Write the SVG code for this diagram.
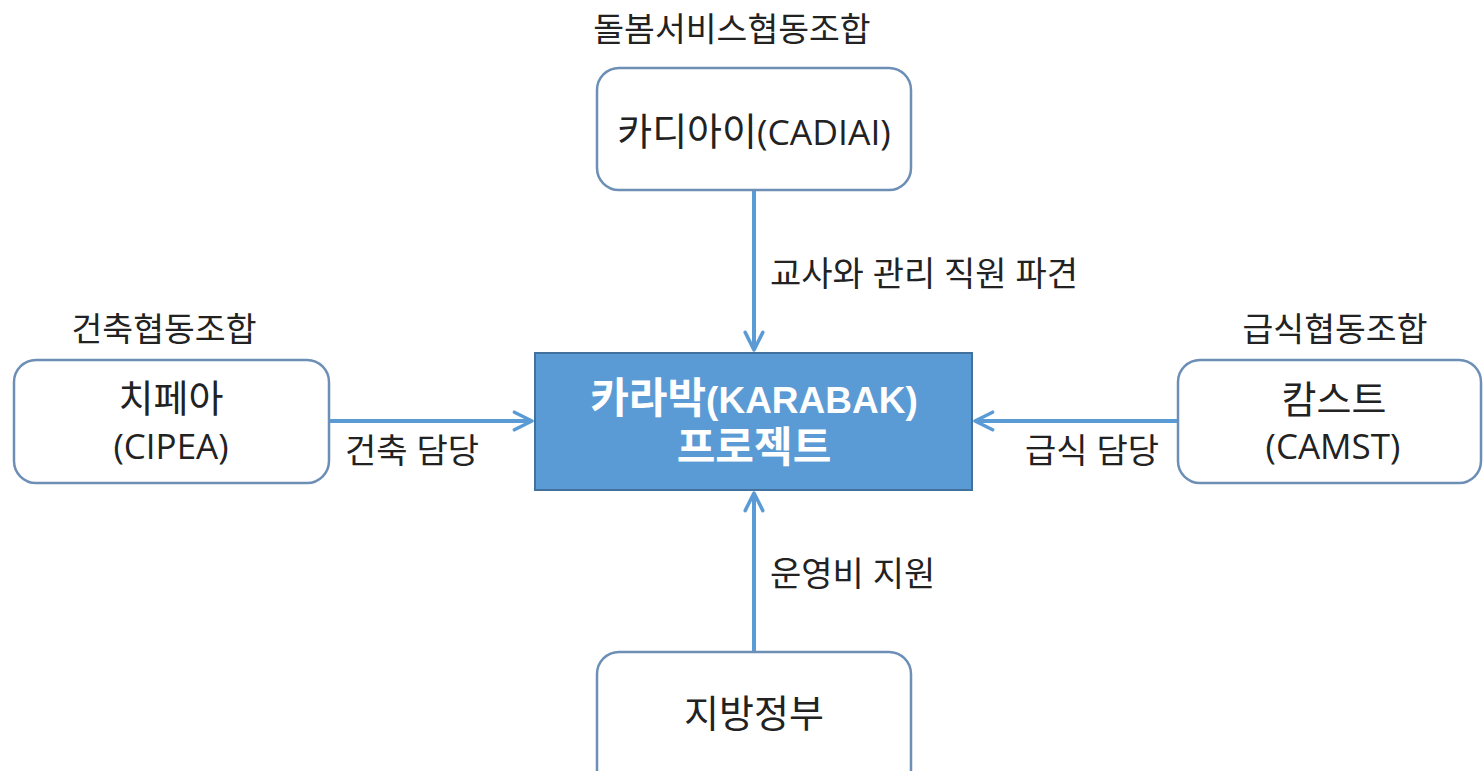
<svg xmlns="http://www.w3.org/2000/svg" width="1483" height="771" viewBox="0 0 1483 771">
<defs>
<style>
.box{fill:#ffffff;stroke:#6d8fb5;stroke-width:2.5}
.main{fill:#5b9bd5;stroke:#41719c;stroke-width:2}
.t{font-family:"Open Sans","Noto Sans CJK KR",sans-serif;fill:#222222;text-anchor:middle}
.lbl{font-family:"Open Sans","Noto Sans CJK KR",sans-serif;fill:#222222;font-size:34px}
.w{font-family:"Liberation Sans","Noto Sans CJK KR",sans-serif;fill:#ffffff;font-weight:bold;text-anchor:middle}
.c{stroke:#5b9bd5;stroke-width:4;fill:none}
</style>
<marker id="ah" viewBox="0 0 10 10" refX="9" refY="5" markerWidth="5.5" markerHeight="5.5" markerUnits="strokeWidth" orient="auto">
<path d="M1,1 L9,5 L1,9" fill="none" stroke="#5b9bd5" stroke-width="1.6" stroke-linecap="round" stroke-linejoin="round"/>
</marker>
</defs>
<rect width="1483" height="771" fill="#ffffff"/>
<g id="connectors">
<line class="c" x1="754" y1="191" x2="754" y2="350" marker-end="url(#ah)"/>
<line class="c" x1="754" y1="651" x2="754" y2="493" marker-end="url(#ah)"/>
<line class="c" x1="330" y1="421" x2="532" y2="421" marker-end="url(#ah)"/>
<line class="c" x1="1177" y1="421" x2="975" y2="421" marker-end="url(#ah)"/>
<text class="lbl" x="770" y="286">교사와 관리 직원 파견</text>
<text class="lbl" x="770" y="586">운영비 지원</text>
<text class="lbl" x="345" y="463">건축 담당</text>
<text class="lbl" x="1025" y="463">급식 담당</text>
</g>
<g id="cadiai">
<text class="t" x="732" y="41" font-size="33.5">돌봄서비스협동조합</text>
<rect class="box" x="597" y="68" width="314" height="122" rx="22"/>
<text class="t" x="754" y="145" font-size="38">카디아이<tspan font-size="35.5">(CADIAI)</tspan></text>
</g>
<g id="karabak">
<rect class="main" x="535" y="353" width="437" height="137"/>
<text class="w" x="754" y="413" font-size="42">카라박<tspan font-size="37">(KARABAK)</tspan></text>
<text class="w" x="754" y="462" font-size="42">프로젝트</text>
</g>
<g id="cipea">
<text class="t" x="164" y="341" font-size="33.5">건축협동조합</text>
<rect class="box" x="14" y="360" width="315" height="123" rx="22"/>
<text class="t" x="171" y="412" font-size="38">치페아<tspan x="171" y="459" font-size="35">(CIPEA)</tspan></text>
</g>
<g id="camst">
<text class="t" x="1335" y="341" font-size="33.5">급식협동조합</text>
<rect class="box" x="1178" y="360" width="303" height="123" rx="22"/>
<text class="t" x="1334" y="413" font-size="38">캄스트<tspan x="1333" y="459" font-size="35">(CAMST)</tspan></text>
</g>
<g id="gov">
<rect class="box" x="597" y="652" width="314" height="140" rx="22"/>
<text class="t" x="754" y="727" font-size="38">지방정부</text>
</g>
</svg>
